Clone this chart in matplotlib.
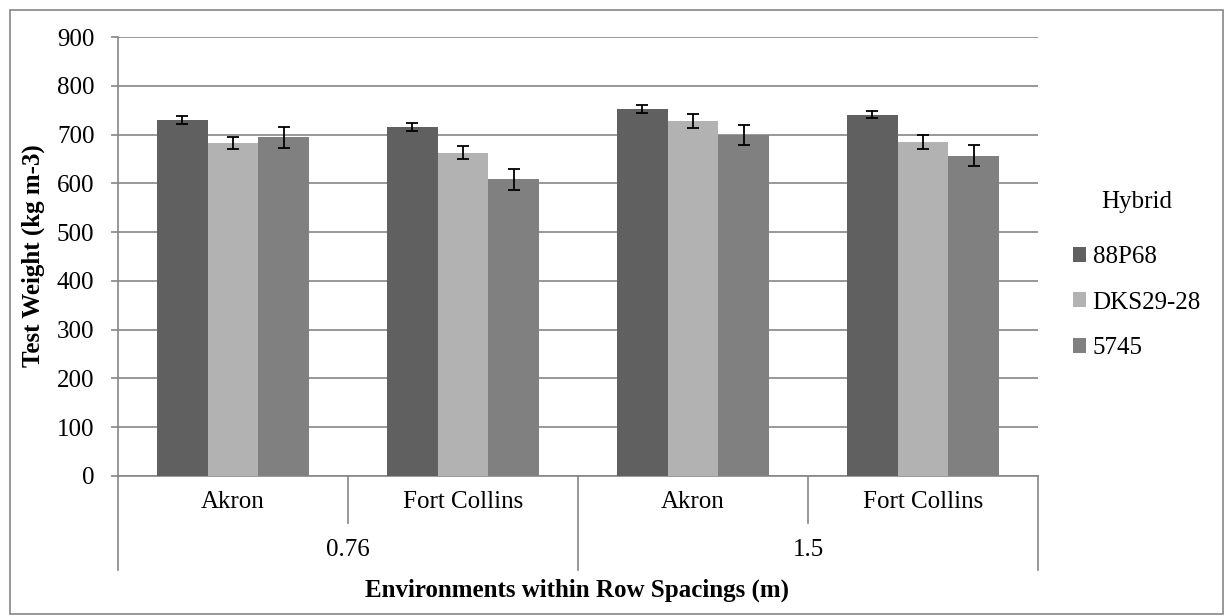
import numpy as np
import matplotlib
matplotlib.use('Agg')
import matplotlib.pyplot as plt
from matplotlib.patches import Rectangle
import matplotlib.transforms as mtransforms

# data
environments = ['Akron', 'Fort Collins', 'Akron', 'Fort Collins']
spacings = ['0.76', '1.5']
hybrids = ['88P68', 'DKS29-28', '5745']
weight_88p68 = [730, 716, 753, 741]
weight_dks = [683, 663, 728, 685]
weight_5745 = [694, 608, 699, 657]
err_88p68 = [8, 8, 8, 8]
err_dks = [13, 14, 14, 14]
err_5745 = [21, 21, 21, 21]

colors = ['#606060', '#b2b2b2', '#808080']
gray = '#868686'
fs = 18

plt.rcParams['font.family'] = ['Liberation Serif', 'DejaVu Serif']

W, H = 1225, 616
fig = plt.figure(figsize=(W / 100, H / 100), dpi=100)
x0, x1, y0, y1 = 118, 1038, 476, 37
ax = fig.add_axes([x0 / W, (H - y0) / H, (x1 - x0) / W, (y0 - y1) / H])

x = np.arange(len(environments))
width = 0.22
values = [weight_88p68, weight_dks, weight_5745]
errs = [err_88p68, err_dks, err_5745]
for i in range(3):
    ax.bar(x + (i - 1) * width, values[i], width, color=colors[i], label=hybrids[i],
           yerr=errs[i], error_kw=dict(ecolor='black', elinewidth=1.3, capsize=4.5, capthick=1.3),
           zorder=3)

ax.set_xlim(-0.5, len(environments) - 0.5)
ax.set_ylim(0, 900)
ax.set_yticks(np.arange(0, 901, 100))
ax.tick_params(axis='y', labelsize=fs, length=5, color=gray, width=1.2, pad=12)
ax.set_xticks([])
ax.grid(axis='y', color=gray, linewidth=1.2, zorder=0)
ax.set_axisbelow(True)
for s in ['top', 'right']:
    ax.spines[s].set_visible(False)
for s in ['left', 'bottom']:
    ax.spines[s].set_color(gray)
    ax.spines[s].set_linewidth(1.2)

# multi-level category axis
trans = mtransforms.blended_transform_factory(ax.transData, ax.transAxes)
ph = y0 - y1
short = -(523 - y0) / ph
long_ = -(570 - y0) / ph
ax.plot([-0.5, -0.5], [0, long_], color=gray, lw=1.2, transform=trans, clip_on=False)
for k in range(1, len(environments) + 1):
    bottom = long_ if k % 2 == 0 else short
    ax.plot([k - 0.5, k - 0.5], [0, bottom], color=gray, lw=1.2, transform=trans, clip_on=False)
for k, env in enumerate(environments):
    ax.text(k, -(502 - y0) / ph, env, transform=trans, ha='center', va='center', fontsize=fs)
for j, sp in enumerate(spacings):
    ax.text(2 * j + 0.5, -(550 - y0) / ph, sp, transform=trans, ha='center', va='center', fontsize=fs)

fig.text(577 / W, (H - 590) / H, 'Environments within Row Spacings (m)', ha='center', va='center',
         fontsize=fs, fontweight='bold')
fig.text(33 / W, (H - 256) / H, 'Test Weight (kg m-3)', ha='center', va='center',
         fontsize=fs, fontweight='bold', rotation=90)

leg = ax.legend(loc='center left', bbox_to_anchor=(1050 / W, (H - 275) / H), bbox_transform=fig.transFigure,
                frameon=False, fontsize=fs, title='Hybrid', title_fontsize=fs,
                handlelength=0.55, handleheight=0.55, handletextpad=0.25, labelspacing=0.95)
leg._legend_box.sep = 24

fig.patches.append(Rectangle((10 / W, 2 / H), (W - 12) / W, (H - 12) / H, transform=fig.transFigure,
                             fill=False, edgecolor=gray, linewidth=1.2))

fig.savefig('out.png', dpi=100, facecolor='white')
